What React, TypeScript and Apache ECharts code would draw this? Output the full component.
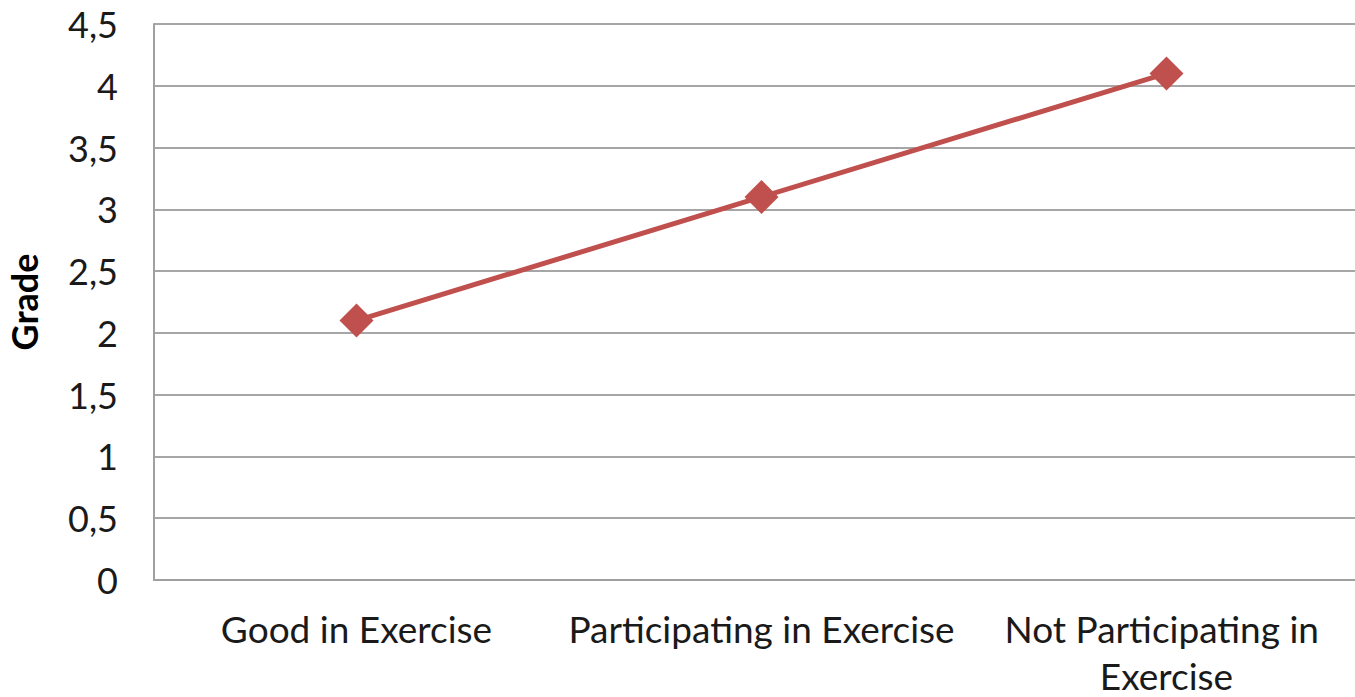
import React, { useEffect, useRef } from "react";
import * as echarts from "echarts";

const categories = ["Good in Exercise", "Participating in Exercise", "Not Participating in Exercise"];
const grades = [2.1, 3.1, 4.1];
const yAxisName = "Grade";

export default function App() {
  const ref = useRef<HTMLDivElement>(null);
  useEffect(() => {
    if (!ref.current) return;
    const chart = echarts.init(ref.current, null, { renderer: "svg" });
    chart.setOption({
      animation: false,
      grid: { left: 154, right: 0, top: 24, bottom: 117, containLabel: false, outerBoundsMode: "none" },
      xAxis: {
        type: "category",
        data: categories,
        boundaryGap: true,
        axisLine: { show: true, lineStyle: { color: "#a0a0a0", width: 2 } },
        axisTick: { show: false },
        axisLabel: {
          fontFamily: "Lato",
          fontSize: 37,
          color: "#1a1a1a",
          margin: 25,
          lineHeight: 47,
          width: 400,
          overflow: "break",
          interval: 0,
        },
      },
      yAxis: {
        type: "value",
        min: 0,
        max: 4.5,
        interval: 0.5,
        name: yAxisName,
        nameLocation: "middle",
        nameRotate: 90,
        nameGap: 112,
        nameTextStyle: { fontFamily: "Lato", fontSize: 36, fontWeight: "bold", color: "#000" },
        axisLine: { show: true, lineStyle: { color: "#a0a0a0", width: 2 } },
        axisTick: { show: false },
        splitLine: { show: true, lineStyle: { color: "#a6a6a6", width: 2 } },
        axisLabel: {
          fontFamily: "Lato",
          fontSize: 36,
          color: "#1a1a1a",
          margin: 36,
          formatter: (v: number) => String(v).replace(".", ","),
        },
      },
      series: [
        {
          type: "line",
          data: grades,
          symbol: "diamond",
          symbolSize: 34,
          lineStyle: { color: "#c0504d", width: 5 },
          itemStyle: { color: "#c0504d" },
        },
      ],
    });
    return () => chart.dispose();
  }, []);
  return (
    <div style={{ position: "fixed", left: 0, top: 0, width: 1355, height: 697, overflow: "hidden", background: "#fff" }}>
      <div ref={ref} style={{ position: "absolute", left: 0, top: 0, width: 1369, height: 697 }} />
    </div>
  );
}
